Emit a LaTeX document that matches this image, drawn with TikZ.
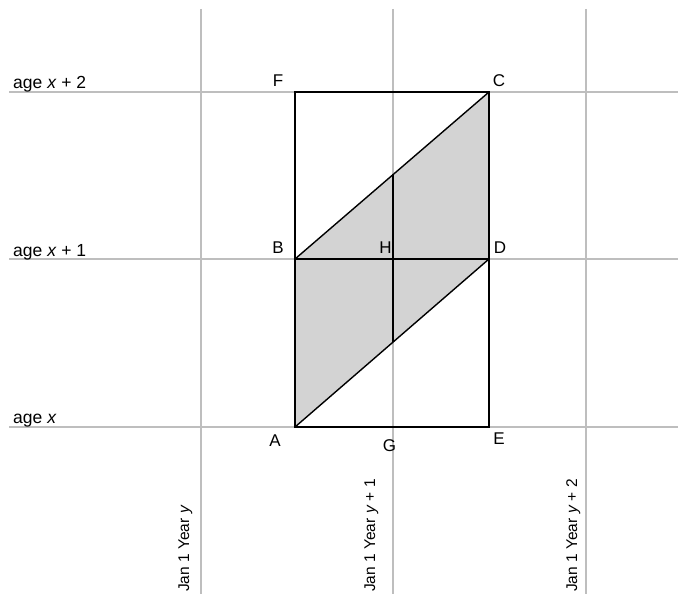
\documentclass[tikz,border=0pt]{standalone}
\usepackage{fontspec}
\setmainfont{Liberation Sans}
\usetikzlibrary{calc}
\definecolor{gridgray}{RGB}{190,190,190}
\definecolor{shadegray}{RGB}{211,211,211}
\begin{document}
\begin{tikzpicture}[x=1bp,y=-1bp,
  gridline/.style={draw=gridgray,line width=1.4bp},
  edge/.style={draw=black,line width=1.4bp},
  ptlbl/.style={inner sep=0pt,font=\fontsize{17bp}{19bp}\selectfont},
  agelbl/.style={inner sep=0pt,anchor=base west,font=\fontsize{17.5bp}{20bp}\selectfont},
  yearlbl/.style={inner sep=0pt,anchor=base west,rotate=90,font=\fontsize{15.5bp}{17bp}\selectfont}]
\useasboundingbox (0,0) rectangle (678,594);
% grid end points
\coordinate (v1t) at (201,9);   \coordinate (v1b) at (201,594);
\coordinate (v2t) at (393,9);   \coordinate (v2b) at (393,594);
\coordinate (v3t) at (586,9);   \coordinate (v3b) at (586,594);
\coordinate (h2l) at (9,92);    \coordinate (h2r) at (678,92);
\coordinate (h1l) at (9,259);   \coordinate (h1r) at (678,259);
\coordinate (h0l) at (9,427);   \coordinate (h0r) at (678,427);
% main points
\coordinate (A) at (295,427);
\coordinate (B) at (295,259);
\coordinate (C) at (489,92);
\coordinate (D) at (489,259);
\coordinate (E) at (489,427);
\coordinate (F) at (295,92);
\coordinate (G) at (393,427);
\coordinate (H) at (393,259);
\coordinate (P) at (393,174.3);
\coordinate (Q) at (393,341.8);
% grid
\draw[gridline] (v1t) -- (v1b);
\draw[gridline] (v2t) -- (v2b);
\draw[gridline] (v3t) -- (v3b);
\draw[gridline] (h2l) -- (h2r);
\draw[gridline] (h1l) -- (h1r);
\draw[gridline] (h0l) -- (h0r);
% shaded parallelogram
\fill[shadegray] (A) -- (B) -- (C) -- (D) -- cycle;
% black lines
\draw[edge] (F) -- (C) -- (E) -- (A) -- cycle;
\draw[edge] (B) -- (C);
\draw[edge] (A) -- (D);
\draw[edge] (B) -- (D);
\draw[edge] (P) -- (Q);
% point labels
\node[ptlbl] (lF) at (278,81) {F};
\node[ptlbl] (lC) at (499,81) {C};
\node[ptlbl] (lB) at (278,248) {B};
\node[ptlbl] (lH) at (385.5,248) {H};
\node[ptlbl] (lD) at (500,248) {D};
\node[ptlbl] (lA) at (275,441) {A};
\node[ptlbl] (lG) at (389.5,446) {G};
\node[ptlbl] (lE) at (499,439) {E};
% age labels
\node[agelbl] (age2) at (13,89) {age \textit{x} + 2};
\node[agelbl] (age1) at (13,256) {age \textit{x} + 1};
\node[agelbl] (age0) at (13,423) {age \textit{x}};
% year labels
\node[yearlbl] (yr0) at (189,592) {Jan 1 Year \textit{y}};
\node[yearlbl] (yr1) at (375,592) {Jan 1 Year \textit{y} + 1};
\node[yearlbl] (yr2) at (577,592) {Jan 1 Year \textit{y} + 2};
\end{tikzpicture}
\end{document}
